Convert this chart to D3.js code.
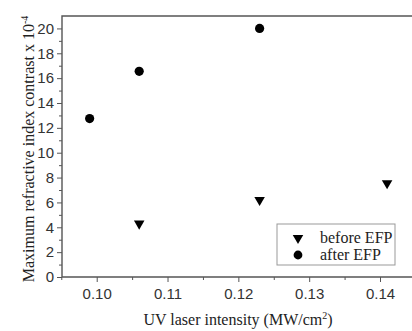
<!DOCTYPE html>
<html>
<head>
<meta charset="utf-8">
<script src="https://cdn.jsdelivr.net/npm/d3@7"></script>
<style>
  body { margin: 0; background: #fff; }
  svg { display: block; font-family: "Liberation Serif", "DejaVu Serif", serif; }
</style>
</head>
<body>
<div id="chart"></div>
<script>
// values
const beforeX = [0.106, 0.123, 0.141];
const beforeY = [4.3, 6.2, 7.55];
const afterX = [0.099, 0.106, 0.123];
const afterY = [12.75, 16.55, 20.0];
const xTicks = [0.10, 0.11, 0.12, 0.13, 0.14];
const yTicks = [0, 2, 4, 6, 8, 10, 12, 14, 16, 18, 20];
const seriesNames = ['before EFP', 'after EFP'];

const W = 412, H = 331;
const margin = {top: 16, right: -2, bottom: 54, left: 62};
const width = W - margin.left - margin.right,
  height = H - margin.top - margin.bottom;

const svg = d3.select('#chart').append('svg')
  .attr('width', W)
  .attr('height', H);

const g = svg.append('g')
  .attr('transform', 'translate(' + margin.left + ',' + margin.top + ')');

const x = d3.scaleLinear().domain([0.0951, 0.1448]).range([0, width]);
const y = d3.scaleLinear().domain([0, 21]).range([height, 0]);

const frameColor = '#555';

// minor ticks
const xMinor = d3.range(0.095, 0.1451, 0.005).filter(v => Math.round(v * 1000) % 10 !== 0);
const yMinor = d3.range(1, 21, 2);

g.append('g')
  .attr('transform', 'translate(0,' + height + ')')
  .call(d3.axisBottom(x).tickValues(xMinor).tickSize(3).tickFormat(''))
  .call(a => a.select('.domain').remove());

g.append('g')
  .call(d3.axisLeft(y).tickValues(yMinor).tickSize(3).tickFormat(''))
  .call(a => a.select('.domain').remove());

const xAxis = g.append('g')
  .attr('transform', 'translate(0,' + height + ')')
  .call(d3.axisBottom(x).tickValues(xTicks).tickSize(5).tickPadding(6)
    .tickFormat(d3.format('.2f')));
xAxis.select('.domain').remove();
xAxis.selectAll('text').style('font-size', '15px').style('fill', '#333');

const yAxis = g.append('g')
  .call(d3.axisLeft(y).tickValues(yTicks).tickSize(5).tickPadding(3));
yAxis.select('.domain').remove();
yAxis.selectAll('text').style('font-size', '15px').style('fill', '#333');

g.selectAll('.tick line').style('stroke', frameColor);

// frame (left, bottom, top)
g.append('path')
  .attr('d', 'M' + (width + 5) + ',0H0V' + height + 'H' + (width + 5))
  .style('fill', 'none')
  .style('stroke', frameColor)
  .style('stroke-width', 1.4);

// points
const tri = d3.symbol().type(d3.symbolTriangle).size(48);
g.selectAll('.before')
  .data(beforeX.map((v, i) => [v, beforeY[i]]))
  .enter().append('path')
  .attr('class', 'before')
  .attr('d', tri)
  .attr('transform', d => 'translate(' + x(d[0]) + ',' + y(d[1]) + ') rotate(180)')
  .style('fill', '#000');

g.selectAll('.after')
  .data(afterX.map((v, i) => [v, afterY[i]]))
  .enter().append('circle')
  .attr('class', 'after')
  .attr('cx', d => x(d[0]))
  .attr('cy', d => y(d[1]))
  .attr('r', 4.6)
  .style('fill', '#000');

// legend
const legend = svg.append('g').attr('transform', 'translate(277,224)');
legend.append('rect')
  .attr('width', 118)
  .attr('height', 41)
  .style('fill', '#fff')
  .style('stroke', '#999')
  .style('stroke-width', 1);

legend.append('path')
  .attr('d', tri)
  .attr('transform', 'translate(21,14) rotate(180)')
  .style('fill', '#000');
legend.append('circle')
  .attr('cx', 21)
  .attr('cy', 31)
  .attr('r', 4.4)
  .style('fill', '#000');

seriesNames.forEach((name, i) => {
  legend.append('text')
    .attr('x', 43)
    .attr('y', 19 + i * 17)
    .style('font-size', '16px')
    .style('fill', '#222')
    .text(name);
});

// axis titles
const xt = svg.append('text')
  .attr('x', 238)
  .attr('y', 325)
  .attr('text-anchor', 'middle')
  .style('font-size', '16px')
  .style('fill', '#222');
xt.append('tspan').text('UV laser intensity (MW/cm');
xt.append('tspan').attr('dy', -6).style('font-size', '10px').text('2');
xt.append('tspan').attr('dy', 6).text(')');

const yt = svg.append('text')
  .attr('transform', 'translate(34,149) rotate(-90)')
  .attr('text-anchor', 'middle')
  .style('font-size', '16px')
  .style('fill', '#222');
yt.append('tspan').text('Maximum refractive index contrast x 10');
yt.append('tspan').attr('dy', -6).style('font-size', '10px').text('-4');
</script>
</body>
</html>
